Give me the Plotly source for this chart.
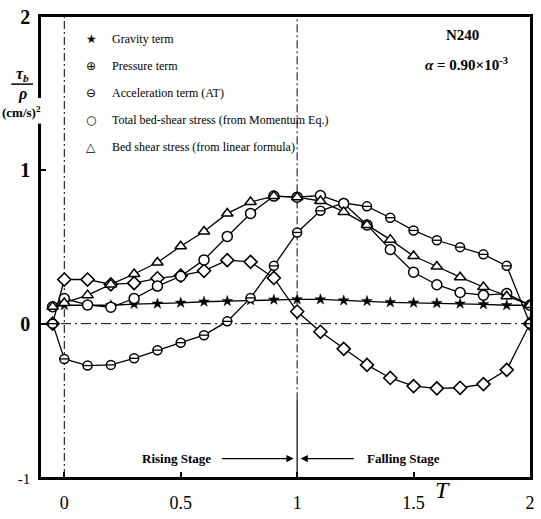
import plotly.graph_objects as go

# ---------------- data ----------------
T = [-0.05, 0.0, 0.1, 0.2, 0.3, 0.4, 0.5, 0.6, 0.7, 0.8, 0.9,
     1.0, 1.1, 1.2, 1.3, 1.4, 1.5, 1.6, 1.7, 1.8, 1.9, 2.0]

gravity = [0.11, 0.12, 0.12, 0.12, 0.128, 0.13, 0.136, 0.143, 0.147, 0.153, 0.156,
           0.158, 0.158, 0.151, 0.147, 0.139, 0.136, 0.134, 0.13, 0.126, 0.12, 0.12]
pressure = [0.0, 0.288, 0.288, 0.256, 0.264, 0.296, 0.313, 0.345, 0.414, 0.403, 0.298,
            0.079, -0.053, -0.164, -0.269, -0.354, -0.407, -0.422, -0.418, -0.394, -0.301, 0.0]
acceleration = [0.0, -0.23, -0.273, -0.269, -0.226, -0.173, -0.124, -0.075, 0.015, 0.168, 0.377,
                0.595, 0.736, 0.787, 0.765, 0.691, 0.608, 0.544, 0.499, 0.452, 0.377, 0.0]
total = [0.11, 0.164, 0.122, 0.107, 0.164, 0.245, 0.309, 0.416, 0.569, 0.719, 0.832,
         0.825, 0.836, 0.783, 0.644, 0.484, 0.335, 0.254, 0.203, 0.186, 0.196, 0.12]
linear = [0.11, 0.135, 0.186, 0.256, 0.324, 0.399, 0.505, 0.601, 0.719, 0.793, 0.832,
          0.825, 0.80, 0.729, 0.644, 0.548, 0.441, 0.373, 0.303, 0.239, 0.179, 0.122]

legend_symbols = ["★", "⊕", "⊖", "○", "△"]
legend_labels = ["Gravity term", "Pressure term", "Acceleration term (AT)",
                 "Total bed-shear stress (from Momentum Eq.)",
                 "Bed shear stress (from linear formula)"]

x_ticks = [0, 0.5, 1, 1.5, 2]
x_ticktext = ["0", "0.5", "1", "1.5", "2"]
y_ticks = [-1, 0, 1, 2]
y_ticktext = ["<span style='font-size:15px'>-1</span>", "<b>0</b>", "<b>1</b>", "<b>2</b>"]

# ---------------- figure ----------------
W, H = 541, 519
L, R, TOP, B = 41, 6, 15, 38
PW, PH = W - L - R, H - TOP - B


def px(x):
    return (x - L) / PW


def py(y):
    return (H - B - y) / PH


SERIF = "Liberation Serif"
fig = go.Figure()

line_style = dict(color="black", width=1.3)

fig.add_trace(go.Scatter(x=T, y=gravity, mode="lines+markers", line=line_style,
                         marker=dict(symbol="star", size=8, color="black",
                                     line=dict(color="black", width=0.5)),
                         name="Gravity term", showlegend=False))
fig.add_trace(go.Scatter(x=T, y=pressure, mode="lines+markers", line=line_style,
                         marker=dict(symbol="diamond", size=10, color="white",
                                     line=dict(color="black", width=1.6)),
                         name="Pressure term", showlegend=False))
fig.add_trace(go.Scatter(x=T, y=acceleration, mode="lines+markers", line=line_style,
                         marker=dict(symbol="circle", size=9, color="white",
                                     line=dict(color="black", width=1.5)),
                         name="Acceleration term (AT)", showlegend=False))
fig.add_trace(go.Scatter(x=T, y=acceleration, mode="markers",
                         marker=dict(symbol="line-ew", size=7, color="black",
                                     line=dict(color="black", width=1.3)),
                         hoverinfo="skip", showlegend=False))
fig.add_trace(go.Scatter(x=T, y=total, mode="lines+markers", line=line_style,
                         marker=dict(symbol="circle", size=10, color="white",
                                     line=dict(color="black", width=1.5)),
                         name="Total bed-shear stress", showlegend=False))
fig.add_trace(go.Scatter(x=T, y=linear, mode="lines+markers", line=line_style,
                         marker=dict(symbol="triangle-up", size=10, color="white",
                                     line=dict(color="black", width=1.5)),
                         name="Bed shear stress (linear)", showlegend=False))

# reference lines
fig.add_shape(type="line", xref="paper", yref="y", x0=0, x1=1, y0=0, y1=0,
              line=dict(color="black", width=1, dash="10px,4px,2px,4px"), layer="below")
fig.add_shape(type="line", xref="x", yref="paper", x0=0, x1=0, y0=0, y1=1,
              line=dict(color="black", width=1, dash="8px,3px,2px,3px"), layer="below")
fig.add_shape(type="line", xref="x", yref="y", x0=1, x1=1, y0=-0.5, y1=2,
              line=dict(color="black", width=1, dash="8px,3px,2px,3px"), layer="below")
fig.add_shape(type="line", xref="x", yref="y", x0=1, x1=1, y0=-1, y1=-0.5,
              line=dict(color="black", width=1.2), layer="below")

# gap in left axis for unit label
fig.add_shape(type="rect", xref="paper", yref="paper", x0=-0.012, x1=0.012,
              y0=py(123), y1=py(97), fillcolor="white", line=dict(width=0), layer="above")


def ann(x, y, text, size, family=SERIF, xanchor="center"):
    return dict(x=px(x), y=py(y), xref="paper", yref="paper", text=text,
                showarrow=False, font=dict(family=family, size=size, color="black"),
                xanchor=xanchor, yanchor="middle")


anns = []
# legend
leg_y = [37, 65, 92, 119, 147]
for s, lab, yy in zip(legend_symbols, legend_labels, leg_y):
    anns.append(ann(92, yy, s, 12, family="DejaVu Sans"))
    anns.append(ann(111, yy, lab, 12, xanchor="left"))

# top-right labels
anns.append(ann(467, 33, "<b>N240</b>", 15))
anns.append(ann(471, 63, "<b><i>α</i> = 0.90×10<sup>-3</sup></b>", 15))

# y-axis label
anns.append(ann(22, 73, "<b><i>τ<sub>b</sub></i></b>", 16))
anns.append(ann(22, 93, "<b><i>ρ</i></b>", 16))
anns.append(ann(21, 111, "<b>(cm/s)<sup>2</sup></b>", 13))
fig.add_shape(type="line", xref="paper", yref="paper", x0=px(11), x1=px(33),
              y0=py(83), y1=py(83), line=dict(color="black", width=1.5))

# x-axis label
anns.append(ann(447, 494, "<i>T</i>", 24))

# stage annotations
anns.append(dict(x=0.483, y=-0.88, xref="x", yref="y", text="<b>Rising Stage</b>",
                 showarrow=False, xanchor="center", yanchor="middle",
                 font=dict(family=SERIF, size=13, color="black")))
anns.append(dict(x=1.455, y=-0.88, xref="x", yref="y", text="<b>Falling Stage</b>",
                 showarrow=False, xanchor="center", yanchor="middle",
                 font=dict(family=SERIF, size=13, color="black")))
anns.append(dict(x=0.985, y=-0.88, xref="x", yref="y", ax=0.67, ay=-0.88,
                 axref="x", ayref="y", text="", showarrow=True, arrowhead=2,
                 arrowsize=1.2, arrowwidth=1.2, arrowcolor="black"))
anns.append(dict(x=1.015, y=-0.88, xref="x", yref="y", ax=1.25, ay=-0.88,
                 axref="x", ayref="y", text="", showarrow=True, arrowhead=2,
                 arrowsize=1.2, arrowwidth=1.2, arrowcolor="black"))

fig.update_layout(
    width=W, height=H,
    margin=dict(l=L, r=R, t=TOP, b=B),
    paper_bgcolor="white", plot_bgcolor="white",
    showlegend=False,
    annotations=anns,
    xaxis=dict(range=[-0.1, 2.0], tickvals=x_ticks, ticktext=x_ticktext,
               showgrid=False, zeroline=False, showline=True, mirror=True,
               linecolor="black", linewidth=2.5, ticks="inside", ticklen=5,
               tickcolor="black", tickwidth=1.5, ticklabelstandoff=8,
               tickfont=dict(family=SERIF, size=18, color="black")),
    yaxis=dict(range=[-1, 2], tickvals=y_ticks, ticktext=y_ticktext,
               showgrid=False, zeroline=False, showline=True, mirror=True,
               linecolor="black", linewidth=2.5, ticks="inside", ticklen=5,
               tickcolor="black", tickwidth=1.5, ticklabelstandoff=4,
               tickfont=dict(family=SERIF, size=20, color="black")),
)

fig.write_html("out.html")
